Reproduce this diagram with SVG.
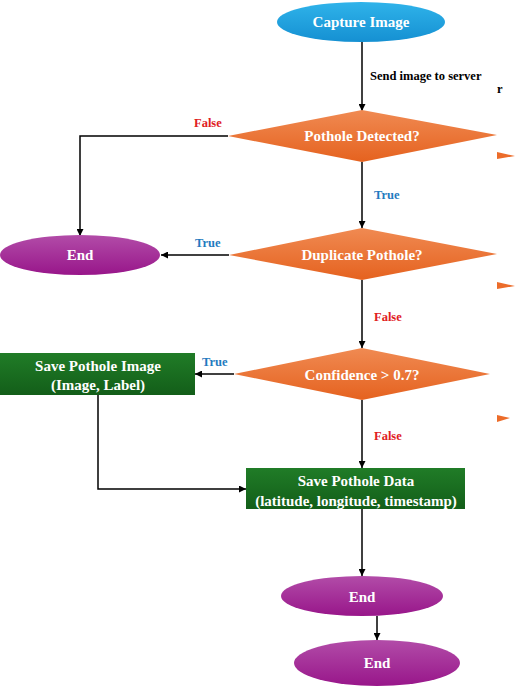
<svg xmlns="http://www.w3.org/2000/svg" width="521" height="693" viewBox="0 0 521 693">
<defs>
<linearGradient id="gBlue" x1="0" y1="0" x2="0" y2="1"><stop offset="0" stop-color="#2fb3ea"/><stop offset="1" stop-color="#1590d2"/></linearGradient>
<linearGradient id="gOrange" x1="0" y1="0" x2="0" y2="1"><stop offset="0" stop-color="#f08a52"/><stop offset="1" stop-color="#e5621f"/></linearGradient>
<linearGradient id="gGreen" x1="0" y1="0" x2="0" y2="1"><stop offset="0" stop-color="#207c27"/><stop offset="1" stop-color="#135e19"/></linearGradient>
<linearGradient id="gPurple" x1="0" y1="0" x2="0" y2="1"><stop offset="0" stop-color="#b24ca8"/><stop offset="1" stop-color="#98168a"/></linearGradient>
<marker id="arr" viewBox="0 0 10 10" refX="10" refY="5" markerWidth="7" markerHeight="7" markerUnits="userSpaceOnUse" orient="auto"><path d="M0,0 L10,5 L0,10 z" fill="#000"/></marker>
</defs>
<style>
.node{font-family:"Liberation Serif","Times New Roman",serif;font-weight:bold;font-size:15px;fill:#fff;text-anchor:middle}
.lbl{font-family:"Liberation Serif","Times New Roman",serif;font-weight:bold;font-size:12.5px}
.t{fill:#1f7bc0}
.f{fill:#e0201e}
.k{fill:#000}
.conn{fill:none;stroke:#000;stroke-width:1.5;marker-end:url(#arr)}
.frag{fill:#ec6c2a}
</style>
<rect width="521" height="693" fill="#fff"/>
<g id="connectors">
<path class="conn" d="M362,42 L362,111"/>
<path class="conn" d="M228,136 L80,136 L80,236"/>
<path class="conn" d="M362,162 L362,228"/>
<path class="conn" d="M229,255 L161,255"/>
<path class="conn" d="M362,280 L362,348"/>
<path class="conn" d="M234,374 L195,374"/>
<path class="conn" d="M362,400 L362,468"/>
<path class="conn" d="M98,395 L98,489 L246,489"/>
<path class="conn" d="M362,509 L362,576"/>
<path class="conn" d="M377,616 L377,640"/>
<text class="lbl k" x="370" y="80">Send image to server</text>
<text class="lbl k" x="497" y="93">r</text>
<text class="lbl f" x="194" y="127">False</text>
<text class="lbl t" x="374" y="199">True</text>
<text class="lbl t" x="195" y="247">True</text>
<text class="lbl f" x="374" y="321">False</text>
<text class="lbl t" x="202" y="366">True</text>
<text class="lbl f" x="374" y="440">False</text>
</g>
<g id="capture">
<ellipse cx="361" cy="22" rx="84" ry="20" fill="url(#gBlue)"/>
<text class="node" x="361" y="27">Capture Image</text>
</g>
<g id="detected">
<polygon points="362,110 497,135 362,162 228,136" fill="url(#gOrange)"/>
<text class="node" x="362" y="141">Pothole Detected?</text>
</g>
<g id="end1">
<ellipse cx="80" cy="255" rx="80" ry="20" fill="url(#gPurple)"/>
<text class="node" x="80" y="260">End</text>
</g>
<g id="duplicate">
<polygon points="362,228 497,254 362,280 229,255" fill="url(#gOrange)"/>
<text class="node" x="362" y="260">Duplicate Pothole?</text>
</g>
<g id="confidence">
<polygon points="362,348 490,374 362,400 234,374" fill="url(#gOrange)"/>
<text class="node" x="362" y="380">Confidence &gt; 0.7?</text>
</g>
<g id="saveImage">
<rect x="0" y="353" width="195" height="42" fill="url(#gGreen)"/>
<text class="node" x="98" y="371">Save Pothole Image</text>
<text class="node" x="98" y="390">(Image, Label)</text>
</g>
<g id="saveData">
<rect x="246" y="468" width="219" height="41" fill="url(#gGreen)"/>
<text class="node" x="356" y="486">Save Pothole Data</text>
<text class="node" x="356" y="506">(latitude, longitude, timestamp)</text>
</g>
<g id="end2">
<ellipse cx="362" cy="596" rx="81" ry="20" fill="url(#gPurple)"/>
<text class="node" x="362" y="602">End</text>
</g>
<g id="end3">
<ellipse cx="377" cy="663" rx="83" ry="23" fill="url(#gPurple)"/>
<text class="node" x="377" y="668">End</text>
</g>
<g id="fragments">
<polygon class="frag" points="497,152 515,156 497,159"/>
<polygon class="frag" points="497,282 515,286 497,289"/>
<polygon class="frag" points="497,415 510,418 497,422"/>
</g>
</svg>
